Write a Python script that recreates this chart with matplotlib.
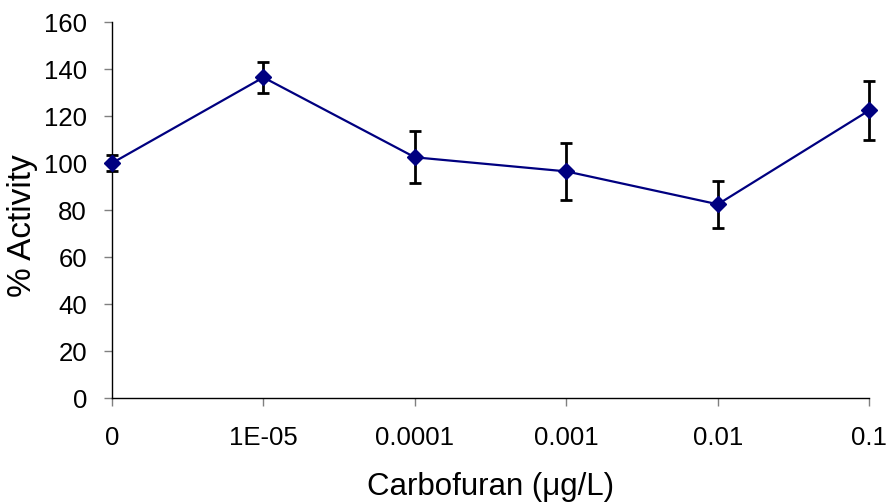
import matplotlib
matplotlib.use('Agg')
import matplotlib.pyplot as plt

plt.rcParams['font.family'] = ['Liberation Sans', 'DejaVu Sans']

# Carbofuran concentration (ug/L) and enzyme activity (% of control)
conc_labels = ['0', '1E-05', '0.0001', '0.001', '0.01', '0.1']
activity = [100.0, 136.5, 102.5, 96.5, 82.5, 122.5]
activity_err = [3.5, 6.5, 11.0, 12.0, 10.0, 12.5]

NAVY = '#000080'
TICK_GREY = '#808080'

fig = plt.figure(figsize=(8.88, 5.04), dpi=100)
ax = fig.add_axes([0.126, 0.21, 0.853, 0.746])

x = list(range(len(conc_labels)))
eb = ax.errorbar(x, activity, yerr=activity_err, fmt='none', ecolor='black',
                 elinewidth=2.0, capsize=4.5, capthick=2.0, zorder=2)
# keep the bars at the axis edges whole
for art in eb.lines[1] + eb.lines[2]:
    art.set_clip_on(False)
ax.plot(x, activity, color=NAVY, lw=1.6, marker='D', markersize=8,
        markerfacecolor=NAVY, markeredgecolor=NAVY, zorder=3, clip_on=False)

ax.set_xlim(0, len(conc_labels) - 1)
ax.set_ylim(0, 160)
ax.set_yticks(range(0, 161, 20))
ax.set_xticks(x)
ax.set_xticklabels(conc_labels)

for side in ('top', 'right'):
    ax.spines[side].set_visible(False)
for side in ('left', 'bottom'):
    ax.spines[side].set_color('black')
    ax.spines[side].set_linewidth(1.0)

ax.tick_params(axis='both', direction='out', length=6, width=1.0,
               color=TICK_GREY, labelsize=18.5, labelcolor='black')
ax.tick_params(axis='x', pad=14)
ax.tick_params(axis='y', pad=12)

ax.set_xlabel('Carbofuran (\u03bcg/L)', fontsize=22.5, labelpad=16)
ax.set_ylabel('% Activity', fontsize=24)
ax.yaxis.set_label_coords(-0.098, 0.46)

fig.savefig('out.png', dpi=100, facecolor='white')
